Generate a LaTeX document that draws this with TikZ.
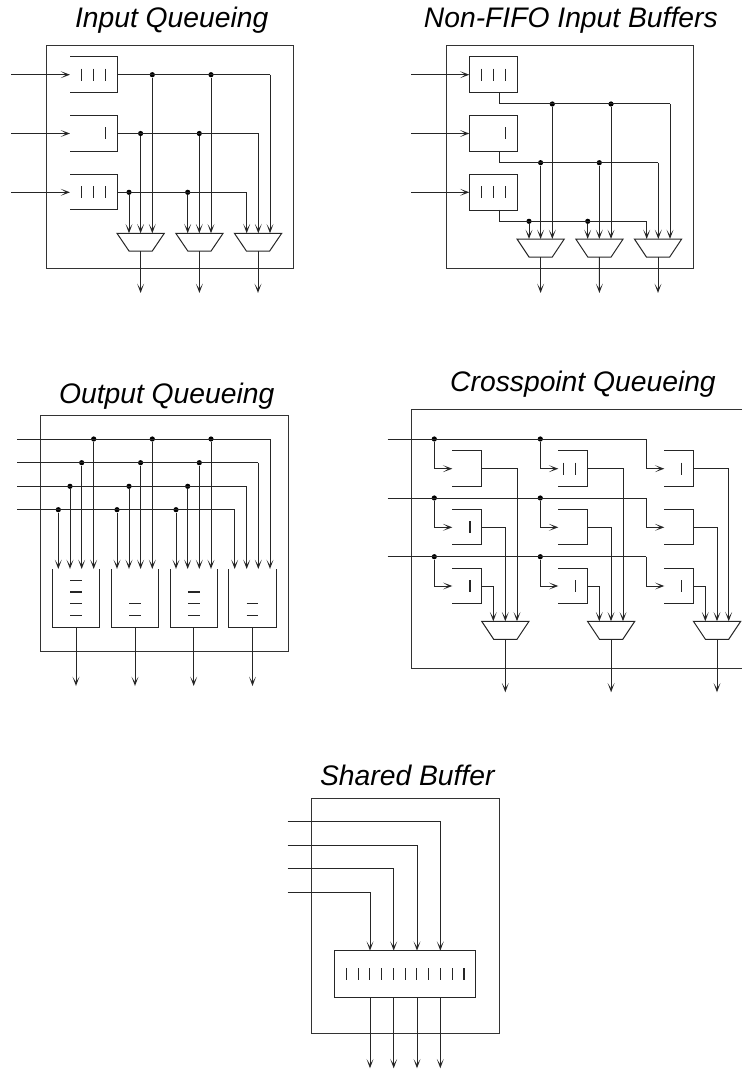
\documentclass[tikz,border=0pt]{standalone}
\usepackage{fontspec}
\setmainfont{Liberation Sans}
\usetikzlibrary{arrows.meta}
\tikzset{
  x=0.75pt,y=-0.75pt,
  wire/.style={line width=0.75pt,draw=black!85,line cap=butt,line join=miter},
  arr/.style={wire,-{Stealth[length=7pt,width=5.2pt,inset=4pt,open,line width=0.65pt]}},
  frm/.style={line width=0.75pt,draw=black!80},
  dotn/.style={circle,fill=black,inner sep=0pt,minimum size=3.9pt},
  ttl/.style={inner sep=0pt,anchor=base,font=\fontsize{21.2pt}{24pt}\selectfont\itshape},
  ptn/.style={line width=0.8pt,draw=black!85}
}
\newcommand{\mymux}[4]{% name, left top x, top y, bottom y
  \coordinate (#1) at (#2+23.6,#3);
  \coordinate (#1o) at (#2+23.6,#4);
  \draw[wire] (#2,#3) -- (#2+47.3,#3) -- (#2+35.3,#4) -- (#2+12,#4) -- cycle;
}
\newcommand{\mybar}[2]{\draw[ptn] (#1,#2-6) -- (#1,#2+6);}
\newcommand{\myhbar}[2]{\draw[ptn] (#1-5.9,#2) -- (#1+5.9,#2);}
\begin{document}
\begin{tikzpicture}
\useasboundingbox (0,0) rectangle (742,1070);
% ---------- Input Queueing
\node[ttl] (t1) at (171.7,27.7) {Input Queueing};
\draw[frm] (46.3,45.3) rectangle (293.7,268.7);
\foreach \n/\top/\mid in {a/56.7/74.7,b/115.7/133.5,c/174.3/192.3}{
  \draw[wire] (70,\top) -- (117.3,\top) -- (117.3,\top+35.5) -- (70,\top+35.5);
  \coordinate (i\n) at (11,\mid);
  \coordinate (q\n) at (70,\mid);
  \coordinate (o\n) at (117.3,\mid);
  \draw[arr] (i\n) -- (q\n);
}
\foreach \x in {81.7,93.5,105.3}{\mybar{\x}{74.7}\mybar{\x}{192.3}}
\mybar{105.3}{133.5}
\mymux{ma}{117}{233.3}{251}
\mymux{mb}{175.8}{233.3}{251}
\mymux{mc}{234.4}{233.3}{251}
\foreach \r/\y/\xa/\xb/\xc in {a/74.7/152.3/211/270,b/133.5/140.6/199.3/258.3,c/192.3/129/187.7/246.7}{
  \node[dotn] (j\r1) at (\xa,\y) {};
  \node[dotn] (j\r2) at (\xb,\y) {};
  \coordinate (e\r) at (\xc,\y);
  \draw[wire] (o\r) -- (e\r);
  \draw[arr] (j\r1) -- (\xa,233.3);
  \draw[arr] (j\r2) -- (\xb,233.3);
  \draw[arr] (e\r) -- (\xc,233.3);
}
\foreach \m/\e in {ma/oa1,mb/ob1,mc/oc1}{
  \coordinate (\e) at ([yshift=-31.5pt]\m o);
  \draw[arr] (\m o) -- (\e);
}
% ---------- Non-FIFO
\node[ttl] (t2) at (570.8,27.7) {Non-FIFO Input Buffers};
\draw[frm] (446.3,45.3) rectangle (693.7,268.7);
\foreach \n/\top/\mid/\lo in {a/56.7/74.7/104,b/115.7/133.5/162.7,c/174.3/192.3/221.3}{
  \node[draw=black!85,line width=0.75pt,minimum width=35.5pt,minimum height=26.6pt,inner sep=0pt] (nb\n) at (493.5,\mid+0) {};
  \coordinate (ni\n) at (411,\mid);
  \draw[arr] (ni\n) -- (nb\n.west);
  \coordinate (nd\n) at (499.3,\lo);
  \draw[wire] (499.3,\top+35.5) -- (nd\n);
}
\foreach \x in {481.7,493.5,505.3}{\mybar{\x}{74.7}\mybar{\x}{192.3}}
\mybar{505.3}{133.5}
\mymux{na}{517}{239}{257}
\mymux{nb}{575.8}{239}{257}
\mymux{nc}{634.4}{239}{257}
\foreach \r/\y/\xa/\xb/\xc in {a/104/552.3/611/670,b/162.7/540.6/599.3/658.3,c/221.3/529/587.7/646.7}{
  \node[dotn] (k\r1) at (\xa,\y) {};
  \node[dotn] (k\r2) at (\xb,\y) {};
  \coordinate (f\r) at (\xc,\y);
  \draw[wire] (nd\r) -- (f\r);
  \draw[arr] (k\r1) -- (\xa,239);
  \draw[arr] (k\r2) -- (\xb,239);
  \draw[arr] (f\r) -- (\xc,239);
}
\foreach \m/\x in {na/540.6,nb/599.4,nc/658}{
  \coordinate (\m e) at (\x,293);
  \draw[arr] (\m o) -- (\m e);
}
% ---------- Output Queueing
\node[ttl] (t3) at (166.7,403.3) {Output Queueing};
\draw[frm] (40.7,415.7) rectangle (288,651);
\foreach \r/\y/\xa/\xb/\xc/\xd in {a/439/93.7/152.3/211/270,b/462.7/81.7/140.6/199.3/258.3,c/486.3/70/129/187.7/246.7,d/509.7/58.3/117/176/234.7}{
  \coordinate (oi\r) at (17,\y);
  \node[dotn] (oj\r1) at (\xa,\y) {};
  \node[dotn] (oj\r2) at (\xb,\y) {};
  \node[dotn] (oj\r3) at (\xc,\y) {};
  \coordinate (oe\r) at (\xd,\y);
  \draw[wire] (oi\r) -- (oe\r);
  \draw[arr] (oj\r1) -- (\xa,569);
  \draw[arr] (oj\r2) -- (\xb,569);
  \draw[arr] (oj\r3) -- (\xc,569);
  \draw[arr] (oe\r) -- (\xd,569);
}
\foreach \n/\l/\o in {a/52.3/76,b/111.3/135,c/170/193.7,d/228.7/252.5}{
  \draw[wire] (\l,569) -- (\l,627) -- (\l+47.4,627) -- (\l+47.4,569);
  \coordinate (ob\n) at (\o,627);
  \coordinate (oo\n) at (\o,686);
  \draw[arr] (ob\n) -- (oo\n);
}
\foreach \y in {580.3,592,603.7,615.7}{\myhbar{76}{\y}}
\foreach \y in {603.7,615.7}{\myhbar{135}{\y}\myhbar{252.5}{\y}}
\foreach \y in {592,603.7,615.7}{\myhbar{193.7}{\y}}
% ---------- Crosspoint Queueing
\node[ttl] (t4) at (583,391.7) {Crosspoint Queueing};
\draw[frm] (742,409.7) -- (411,409.7) -- (411,668.3) -- (742,668.3);
\foreach \r/\y/\top/\mid in {a/439/450.7/468.7,b/498/509.3/527.3,c/556.7/568.3/586}{
  \coordinate (ci\r) at (387.7,\y);
  \node[dotn] (cj\r1) at (434.3,\y) {};
  \node[dotn] (cj\r2) at (540.3,\y) {};
  \coordinate (ce\r) at (646.3,\y);
  \draw[wire] (ci\r) -- (ce\r);
  \draw[arr] (cj\r1) |- (452.3,\mid);
  \draw[arr] (cj\r2) |- (558.3,\mid);
  \draw[arr] (ce\r) |- (664.3,\mid);
  \foreach \l in {452.3,558.3,664.3}{
    \draw[wire] (\l,\top) -- (\l+29.4,\top) -- (\l+29.4,\top+35.6) -- (\l,\top+35.6);
  }
}
\foreach \a/\b/\c/\m in {517/505.3/493.3/481.7,623/611/599.3/587.5,728.7/717/705.3/693.4}{
  \draw[arr] (\m,468.7) -| (\a,621.3);
  \draw[arr] (\m,527.3) -| (\b,621.3);
  \draw[arr] (\m,586) -| (\c,621.3);
}
\mymux{xa}{481.7}{621.3}{639.3}
\mymux{xb}{587.5}{621.3}{639.3}
\mymux{xc}{693.4}{621.3}{639.3}
\foreach \m in {xa,xb,xc}{
  \draw[arr] (\m o) -- ++(0,53);
}
\foreach \x/\y in {563.7/468.7,575.7/468.7,681.7/468.7,470/527.3,470/586,575.7/586,681.7/586}{\mybar{\x}{\y}}
% ---------- Shared Buffer
\node[ttl] (t5) at (407.3,785) {Shared Buffer};
\draw[frm] (311,798) rectangle (499.3,1033.3);
\draw[wire] (334.3,950.7) rectangle (475.7,997.7);
\foreach \x/\y [count=\i] in {370/892,393.7/868.3,417/845,440.3/821.3}{
  \coordinate (si\i) at (287.7,\y);
  \coordinate (st\i) at (\x,950.7);
  \coordinate (sb\i) at (\x,997.7);
  \coordinate (so\i) at (\x,1068.3);
  \draw[arr] (si\i) -| (st\i);
  \draw[arr] (sb\i) -- (so\i);
}
\foreach \i in {0,...,10}{\draw[ptn] (346.3+\i*11.77,968.3) -- (346.3+\i*11.77,980);}
\end{tikzpicture}
\end{document}
